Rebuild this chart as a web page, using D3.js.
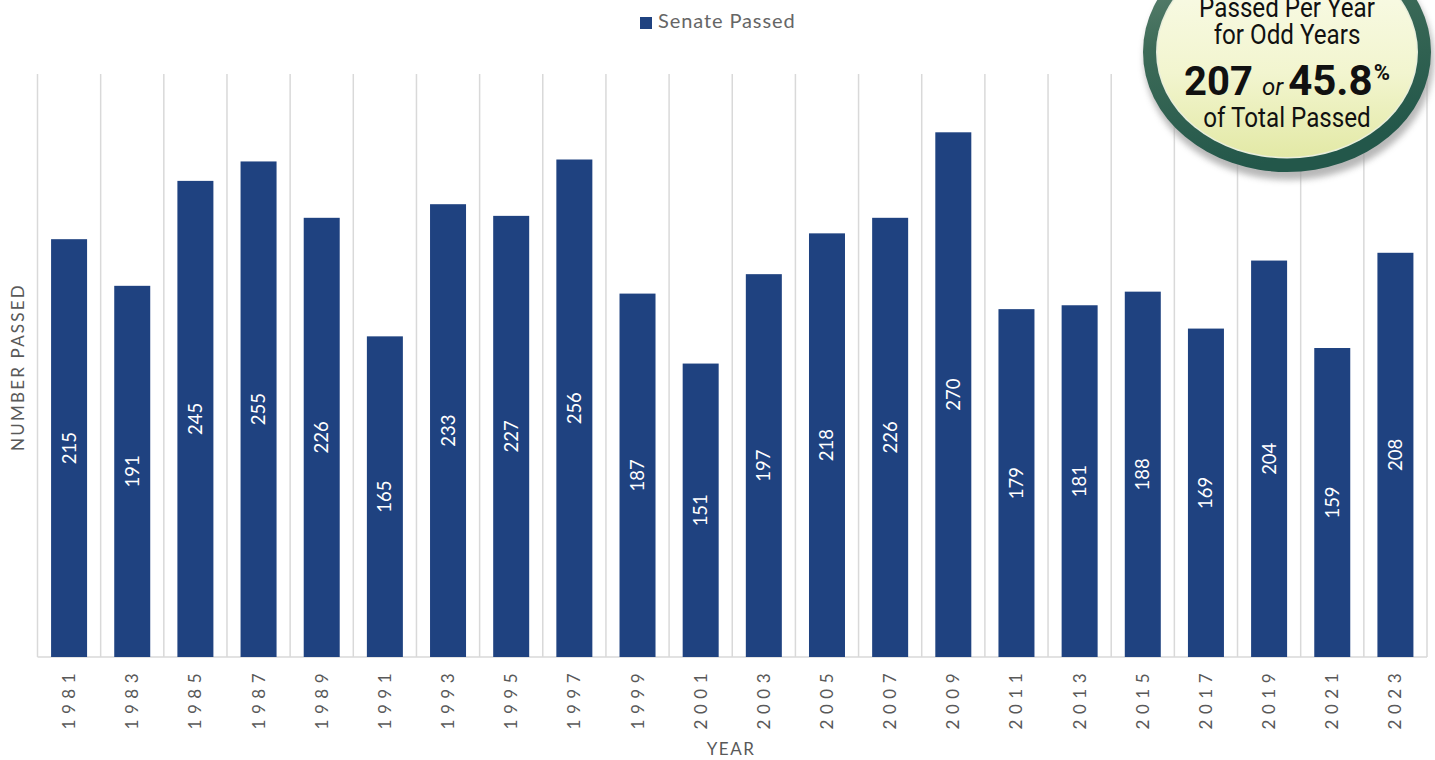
<!DOCTYPE html>
<html><head><meta charset="utf-8">
<script src="https://cdn.jsdelivr.net/npm/d3@7"></script>
<style>body{margin:0;background:#fff;overflow:hidden}</style>
</head><body>
<svg id="chart" width="1435" height="760"></svg>
<script>
const years = ["1981","1983","1985","1987","1989","1991","1993","1995","1997","1999","2001","2003","2005","2007","2009","2011","2013","2015","2017","2019","2021","2023"];
const senatePassed = [215,191,245,255,226,165,233,227,256,187,151,197,218,226,270,179,181,188,169,204,159,208];
const seriesName = "Senate Passed";
const badgeLines = ["Passed Per Year", "for Odd Years", "of Total Passed"];
const badgeAvg = "207", badgePct = "45.8";

(function(){
const svg = d3.select("#chart");
const pLeft = 37.5, pRight = 1427, pTop = 74, pBottom = 657;
const x = d3.scaleBand().domain(years).range([pLeft, pRight]).paddingInner(0.43).paddingOuter(0.215);
const y = d3.scaleLinear().domain([0, 300]).range([pBottom, pTop]);
const step = x.step();
const gray = "#595959", barColor = "#1F4280", gridColor = "#d9d9d9";
const font = "Lato, 'Open Sans', sans-serif";

// vertical gridlines at band boundaries
const bounds = d3.range(years.length + 1).map(i => pLeft + i * step);
svg.append("g").selectAll("line").data(bounds).join("line")
  .attr("x1", d => d).attr("x2", d => d).attr("y1", pTop).attr("y2", pBottom)
  .attr("stroke", gridColor).attr("stroke-width", 1.5);
svg.append("line").attr("x1", pLeft).attr("x2", pRight).attr("y1", pBottom).attr("y2", pBottom)
  .attr("stroke", gridColor).attr("stroke-width", 1.5);

// bars
const data = years.map((yr, i) => ({yr, v: senatePassed[i]}));
svg.append("g").selectAll("rect").data(data).join("rect")
  .attr("x", d => x(d.yr)).attr("width", x.bandwidth())
  .attr("y", d => y(d.v)).attr("height", d => y(0) - y(d.v))
  .attr("fill", barColor);

// bar labels
svg.append("g").selectAll("text").data(data).join("text")
  .attr("transform", d => `translate(${x(d.yr) + x.bandwidth()/2 + 6.5},${(y(d.v) + y(0))/2}) rotate(-90)`)
  .attr("text-anchor", "middle").attr("fill", "#fff")
  .style("font-family", font).style("font-size", "18.5px")
  .text(d => d.v);

// x tick labels
svg.append("g").selectAll("text").data(years).join("text")
  .attr("transform", d => `translate(${x(d) + x.bandwidth()/2 + 6},668) rotate(-90)`)
  .attr("text-anchor", "end").attr("fill", gray)
  .style("font-family", font).style("font-size", "17px").style("letter-spacing", "5.5px")
  .text(d => d);

// axis titles
svg.append("text").attr("x", 731).attr("y", 755).attr("text-anchor", "middle")
  .attr("fill", gray).style("font-family", font).style("font-size", "17px").style("letter-spacing","1.5px").text("YEAR");
svg.append("text").attr("transform", "translate(24,367) rotate(-90)").attr("text-anchor", "middle")
  .attr("fill", gray).style("font-family", font).style("font-size", "17px").style("letter-spacing","2.2px").text("NUMBER PASSED");

// legend
svg.append("rect").attr("x", 640).attr("y", 17).attr("width", 12).attr("height", 12).attr("fill", barColor);
svg.append("text").attr("x", 658).attr("y", 28).attr("fill", "#666")
  .style("font-family", font).style("font-size", "20px").style("letter-spacing","0.9px").text(seriesName);

// badge
const defs = svg.append("defs");
const ring = defs.append("linearGradient").attr("id", "ring").attr("x1", "0").attr("y1", "0").attr("x2", "0.3").attr("y2", "1");
ring.append("stop").attr("offset", "0").attr("stop-color", "#6f8f7e");
ring.append("stop").attr("offset", "0.45").attr("stop-color", "#3d6b58");
ring.append("stop").attr("offset", "1").attr("stop-color", "#23574a");
const inner = defs.append("linearGradient").attr("id", "inner").attr("x1", "0").attr("y1", "0").attr("x2", "0").attr("y2", "1");
inner.append("stop").attr("offset", "0").attr("stop-color", "#fbfcee");
inner.append("stop").attr("offset", "0.6").attr("stop-color", "#f2f5cf");
inner.append("stop").attr("offset", "1").attr("stop-color", "#e3e9a6");
const blur = defs.append("filter").attr("id", "blur").attr("x", "-20%").attr("y", "-20%").attr("width", "140%").attr("height", "140%");
blur.append("feGaussianBlur").attr("stdDeviation", 3);

const cx = 1287, cy = 52;
svg.append("ellipse").attr("cx", cx + 2).attr("cy", cy + 7).attr("rx", 145).attr("ry", 121)
  .attr("fill", "#9a9a9a").attr("opacity", 0.7).attr("filter", "url(#blur)");
svg.append("ellipse").attr("cx", cx).attr("cy", cy).attr("rx", 144).attr("ry", 120).attr("fill", "url(#ring)");
svg.append("ellipse").attr("cx", cx).attr("cy", cy).attr("rx", 131).attr("ry", 106.5)
  .attr("fill", "#e9eedb");
svg.append("ellipse").attr("cx", cx).attr("cy", cy).attr("rx", 129.5).attr("ry", 105).attr("fill", "url(#inner)");

const bf = "'Liberation Sans Narrow', 'Roboto', sans-serif";
const bt = svg.append("g").attr("transform", `translate(${cx},0) scale(0.88,1)`);
bt.append("text").attr("x", 0).attr("y", 17).attr("text-anchor", "middle").attr("fill", "#111")
  .style("font-family", bf).style("font-size", "27.5px").text(badgeLines[0]);
bt.append("text").attr("x", 0).attr("y", 44).attr("text-anchor", "middle").attr("fill", "#111")
  .style("font-family", bf).style("font-size", "27.5px").text(badgeLines[1]);
bt.append("text").attr("x", 0).attr("y", 127).attr("text-anchor", "middle").attr("fill", "#111")
  .style("font-family", bf).style("font-size", "27.5px").text(badgeLines[2]);
const big = svg.append("text").attr("x", cx).attr("y", 95).attr("text-anchor", "middle").attr("fill", "#111")
  .style("font-family", bf);
big.append("tspan").style("font-size", "40px").style("font-weight", "bold").text(badgeAvg);
big.append("tspan").style("font-size", "24px").style("font-style", "italic").attr("dx", 9).text("or");
big.append("tspan").style("font-size", "42px").style("font-weight", "bold").attr("dx", 5).text(badgePct);
big.append("tspan").style("font-size", "22px").style("font-weight", "bold").attr("dx", 1).attr("dy", -15).text("%");
})();
</script>
</body></html>
